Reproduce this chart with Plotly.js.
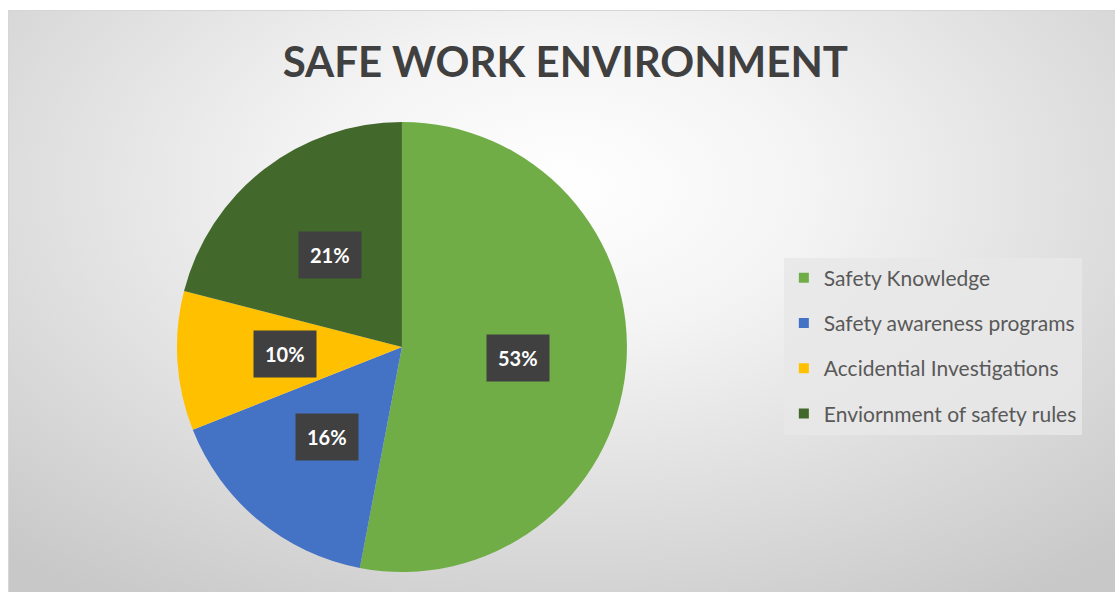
<!DOCTYPE html>
<html>
<head>
<meta charset="utf-8">
<script src="https://cdn.plot.ly/plotly-3.0.1.min.js"></script>
<style>
  html, body { margin: 0; padding: 0; background: #ffffff; width: 1115px; height: 592px; overflow: hidden; }
  #bg { position: absolute; left: 8px; top: 10px; width: 1107px; height: 582px;
        border-top: 1px solid #d6d6d6; border-left: 1px solid #d6d6d6;
        background: radial-gradient(ellipse 75% 85% at 50% 30%, #ffffff 0%, #f4f4f4 30%, #dedede 65%, #c8c8c8 100%); }
  #chart { position: absolute; left: 0; top: 0; width: 1115px; height: 592px; }
</style>
</head>
<body>
<div id="bg"></div>
<div id="chart"></div>
<script>
const categories = ["Safety Knowledge", "Safety awareness programs", "Accidential Investigations", "Enviornment of safety rules"];
const values = [53, 16, 10, 21];
const colors = ["#70AD47", "#4472C4", "#FFC000", "#43682B"];
const chartTitle = "SAFE WORK ENVIRONMENT";

const W = 1115, H = 592;
const dom = { x: [0.1587, 0.5623], y: [0.0338, 0.7939] };
const Rpx = Math.min((dom.x[1] - dom.x[0]) * W, (dom.y[1] - dom.y[0]) * H) / 2;
const cx = (dom.x[0] + dom.x[1]) / 2, cy = (dom.y[0] + dom.y[1]) / 2;
const total = values.reduce((a, b) => a + b, 0);

const annotations = [];
let cum = 0;
values.forEach((v) => {
  const mid = (cum + v / 2) / total * 2 * Math.PI;
  cum += v;
  const r = 0.52 * Rpx;
  annotations.push({
    x: cx + r * Math.sin(mid) / W,
    y: cy + r * Math.cos(mid) / H,
    xref: "paper", yref: "paper",
    text: "<b>" + Math.round(v / total * 100) + "%</b>",
    showarrow: false,
    font: { family: "Lato, 'Open Sans', sans-serif", size: 20, color: "#ffffff" },
    bgcolor: "#404040",
    borderpad: 11,
    xanchor: "center", yanchor: "middle"
  });
});

const pie = {
  type: "pie",
  labels: categories,
  values: values,
  marker: { colors: colors, line: { width: 0 } },
  sort: false,
  direction: "clockwise",
  rotation: 0,
  textinfo: "none",
  hoverinfo: "label+percent",
  showlegend: false,
  domain: dom
};

const legendTraces = categories.map((c, i) => ({
  type: "scatter",
  mode: "markers",
  x: [null], y: [null],
  name: c,
  legendgroup: "g" + i,
  marker: { symbol: "square", size: 10, color: colors[i] },
  showlegend: true,
  hoverinfo: "skip"
}));

const layout = {
  width: W, height: H,
  margin: { l: 0, r: 0, t: 0, b: 0 },
  paper_bgcolor: "rgba(0,0,0,0)",
  plot_bgcolor: "rgba(0,0,0,0)",
  title: {
    text: "<b>" + chartTitle + "</b>",
    x: 0.507, y: 0.895, xref: "paper", yref: "paper",
    xanchor: "center", yanchor: "middle",
    font: { family: "Lato, 'Open Sans', sans-serif", size: 42, color: "#404040" }
  },
  xaxis: { visible: false, range: [0, 1] },
  yaxis: { visible: false, range: [0, 1] },
  showlegend: true,
  legend: {
    x: 0.703, y: 0.565, xanchor: "left", yanchor: "top",
    bgcolor: "rgba(232,232,232,0.85)",
    font: { family: "Lato, 'Open Sans', sans-serif", size: 21, color: "#595959" },
    traceorder: "grouped",
    tracegroupgap: 15,
    itemwidth: 30,
    itemclick: false
  },
  annotations: annotations
};

Plotly.newPlot("chart", [pie].concat(legendTraces), layout, { displayModeBar: false, staticPlot: true });
</script>
</body>
</html>
